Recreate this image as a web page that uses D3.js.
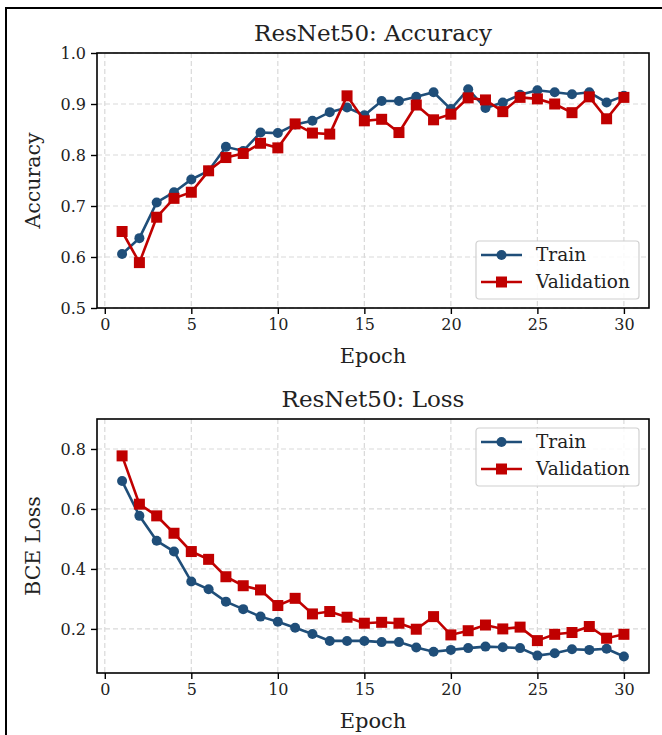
<!DOCTYPE html>
<html>
<head>
<meta charset="utf-8">
<script src="https://cdn.jsdelivr.net/npm/d3@7"></script>
<style>
  body { margin: 0; background: #fff; }
  svg text { font-family: "DejaVu Serif", serif; fill: #222; }
</style>
</head>
<body>
<svg id="fig" width="662" height="735"></svg>
<script>
// epochs 1..30
var epochs = d3.range(1, 31);

var accTrain = [0.606, 0.637, 0.707, 0.727, 0.752, 0.769, 0.816, 0.808, 0.844, 0.843,
  0.860, 0.867, 0.884, 0.893, 0.878, 0.906, 0.906, 0.914, 0.923, 0.890,
  0.929, 0.892, 0.903, 0.918, 0.927, 0.923, 0.919, 0.923, 0.903, 0.916];
var accVal = [0.650, 0.589, 0.678, 0.715, 0.727, 0.769, 0.795, 0.803, 0.823, 0.814,
  0.861, 0.843, 0.841, 0.916, 0.867, 0.870, 0.844, 0.898, 0.869, 0.880,
  0.912, 0.908, 0.885, 0.913, 0.910, 0.900, 0.883, 0.914, 0.871, 0.913];

var lossTrain = [0.693, 0.577, 0.494, 0.458, 0.358, 0.332, 0.291, 0.266, 0.241, 0.224,
  0.204, 0.183, 0.160, 0.160, 0.160, 0.156, 0.156, 0.138, 0.124, 0.130,
  0.136, 0.141, 0.139, 0.136, 0.111, 0.119, 0.132, 0.130, 0.134, 0.108];
var lossVal = [0.777, 0.616, 0.577, 0.519, 0.458, 0.432, 0.374, 0.344, 0.330, 0.278,
  0.302, 0.250, 0.258, 0.239, 0.219, 0.222, 0.219, 0.199, 0.241, 0.180,
  0.194, 0.213, 0.200, 0.206, 0.161, 0.182, 0.188, 0.208, 0.169, 0.182];

var xTicks = [0, 5, 10, 15, 20, 25, 30];
var accTicks = [0.5, 0.6, 0.7, 0.8, 0.9, 1.0];
var lossTicks = [0.2, 0.4, 0.6, 0.8];

var seriesNames = ["Train", "Validation"];
var colors = ["#1f4e79", "#c00000"];

var svg = d3.select("#fig");

// outer frame (cut off on the right and bottom)
svg.append("path")
  .attr("d", "M6,735V8H662")
  .attr("fill", "none")
  .attr("stroke", "#000")
  .attr("stroke-width", 2);

function panel(opts) {
  var left = 97, right = 649, top = opts.top, bottom = opts.bottom;
  var x = d3.scaleLinear().domain([-0.45, 31.45]).range([left, right]);
  var y = d3.scaleLinear().domain(opts.yDomain).range([bottom, top]);
  var g = svg.append("g");

  // grid
  g.append("g").selectAll("line").data(xTicks).enter().append("line")
    .attr("x1", d => x(d)).attr("x2", d => x(d))
    .attr("y1", top).attr("y2", bottom)
    .attr("stroke", "#d9d9d9").attr("stroke-width", 1.2).attr("stroke-dasharray", "5,3");
  g.append("g").selectAll("line").data(opts.yTicks).enter().append("line")
    .attr("x1", left).attr("x2", right)
    .attr("y1", d => y(d)).attr("y2", d => y(d))
    .attr("stroke", "#d9d9d9").attr("stroke-width", 1.2).attr("stroke-dasharray", "5,3");

  // axes
  var xAxis = g.append("g")
    .attr("transform", "translate(0," + bottom + ")")
    .call(d3.axisBottom(x).tickValues(xTicks).tickSize(6).tickPadding(5).tickFormat(d3.format("d")));
  var yAxis = g.append("g")
    .attr("transform", "translate(" + left + ",0)")
    .call(d3.axisLeft(y).tickValues(opts.yTicks).tickSize(6).tickPadding(5).tickFormat(d3.format(".1f")));
  [xAxis, yAxis].forEach(function (a) {
    a.select(".domain").remove();
    a.selectAll(".tick line").attr("stroke", "#000").attr("stroke-width", 1.4);
    a.selectAll(".tick text").attr("font-size", 16).attr("font-family", "DejaVu Serif").attr("fill", "#222");
  });

  // series
  var sets = [opts.train, opts.val];
  sets.forEach(function (vals, i) {
    var pts = epochs.map((e, j) => [e, vals[j]]);
    g.append("path")
      .datum(pts)
      .attr("fill", "none")
      .attr("stroke", colors[i])
      .attr("stroke-width", 2.6)
      .attr("d", d3.line().x(d => x(d[0])).y(d => y(d[1])));
    if (i === 0) {
      g.append("g").selectAll("circle").data(pts).enter().append("circle")
        .attr("cx", d => x(d[0])).attr("cy", d => y(d[1])).attr("r", 5)
        .attr("fill", colors[i]);
    } else {
      g.append("g").selectAll("rect").data(pts).enter().append("rect")
        .attr("x", d => x(d[0]) - 5.5).attr("y", d => y(d[1]) - 5.5)
        .attr("width", 11).attr("height", 11)
        .attr("fill", colors[i]);
    }
  });

  // spines
  g.append("rect")
    .attr("x", left).attr("y", top)
    .attr("width", right - left).attr("height", bottom - top)
    .attr("fill", "none").attr("stroke", "#000").attr("stroke-width", 1.6);

  // titles / labels
  g.append("text")
    .attr("x", (left + right) / 2).attr("y", top - 12)
    .attr("text-anchor", "middle").attr("font-size", 23)
    .text(opts.title);
  g.append("text")
    .attr("x", (left + right) / 2).attr("y", bottom + 55)
    .attr("text-anchor", "middle").attr("font-size", 21)
    .text("Epoch");
  g.append("text")
    .attr("transform", "translate(40," + ((top + bottom) / 2) + ") rotate(-90)")
    .attr("text-anchor", "middle").attr("font-size", 20.5)
    .text(opts.yLabel);

  // legend
  var lg = g.append("g").attr("transform", "translate(476," + opts.legendTop + ")");
  lg.append("rect")
    .attr("width", 163).attr("height", 58).attr("rx", 3)
    .attr("fill", "#fff").attr("fill-opacity", 0.85)
    .attr("stroke", "#d0d0d0").attr("stroke-width", 1.2);
  seriesNames.forEach(function (name, i) {
    var cy = 14 + i * 27;
    lg.append("line")
      .attr("x1", 5).attr("x2", 46).attr("y1", cy).attr("y2", cy)
      .attr("stroke", colors[i]).attr("stroke-width", 2.6);
    if (i === 0) {
      lg.append("circle").attr("cx", 25.5).attr("cy", cy).attr("r", 5).attr("fill", colors[i]);
    } else {
      lg.append("rect").attr("x", 20).attr("y", cy - 5.5).attr("width", 11).attr("height", 11).attr("fill", colors[i]);
    }
    lg.append("text")
      .attr("x", 60).attr("y", cy + 6)
      .attr("font-size", 18.5)
      .text(name);
  });
}

panel({
  top: 53, bottom: 308, yDomain: [0.5, 1.0], yTicks: accTicks,
  train: accTrain, val: accVal,
  title: "ResNet50: Accuracy", yLabel: "Accuracy", legendTop: 241
});

panel({
  top: 419, bottom: 673, yDomain: [0.053, 0.9], yTicks: lossTicks,
  train: lossTrain, val: lossVal,
  title: "ResNet50: Loss", yLabel: "BCE Loss", legendTop: 428
});
</script>
</body>
</html>
